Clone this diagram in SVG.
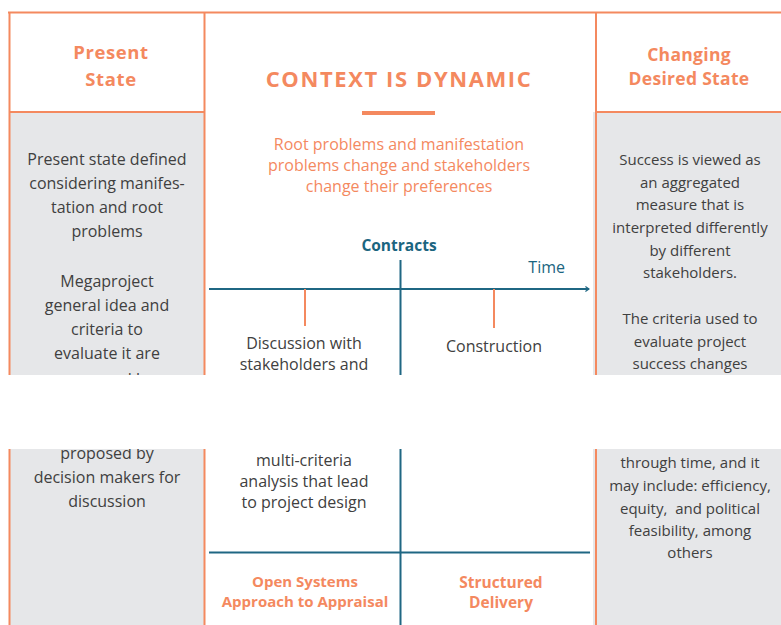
<svg xmlns="http://www.w3.org/2000/svg" width="781" height="625" viewBox="0 0 781 625">
  <style>
    .frame { stroke: #F4895F; stroke-width: 2; fill: none; }
    .panel { fill: #E6E7E9; }
    .head { font-family: "Open Sans", "Liberation Sans", sans-serif; font-weight: 700; fill: #F4895F; text-anchor: middle; }
    .body { font-family: "Open Sans", "Liberation Sans", sans-serif; fill: #404040; text-anchor: middle; }
    .sub { font-family: "Open Sans", "Liberation Sans", sans-serif; fill: #F4895F; text-anchor: middle; font-size: 16px; }
    .axis { stroke: #1F6783; stroke-width: 2; fill: none; }
    .tick { stroke: #F4895F; stroke-width: 2; }
    .teal { font-family: "Open Sans", "Liberation Sans", sans-serif; fill: #1B6580; }
  </style>
  <defs>
    <marker id="arrow" viewBox="0 0 10 10" refX="8" refY="5" markerWidth="6" markerHeight="6" markerUnits="userSpaceOnUse" orient="auto">
      <path d="M2,1 L8,5 L2,9" fill="none" stroke="#1F6783" stroke-width="2"/>
    </marker>
  </defs>

  <rect width="781" height="625" fill="#FFFFFF"/>

  <!-- left column: present state -->
  <g id="present-state">
    <rect class="panel" x="9" y="112" width="196" height="513"/>
    <line class="frame" x1="8" y1="12.5" x2="781" y2="12.5"/>
    <line class="frame" x1="9.5" y1="12" x2="9.5" y2="625"/>
    <line class="frame" x1="204.5" y1="12" x2="204.5" y2="625"/>
    <line class="frame" x1="9" y1="112" x2="205" y2="112"/>
    <text class="head" font-size="18.5" letter-spacing="0.6" x="111" y="59">Present</text>
    <text class="head" font-size="18.5" letter-spacing="0.6" x="111" y="86">State</text>
    <g class="body" font-size="16">
      <text x="107" y="165">Present state defined</text>
      <text x="107" y="189">considering manifes-</text>
      <text x="107" y="213">tation and root</text>
      <text x="107" y="237">problems</text>
      <text x="107" y="287">Megaproject</text>
      <text x="107" y="311">general idea and</text>
      <text x="107" y="335">criteria to</text>
      <text x="107" y="359">evaluate it are</text>
      <text x="107" y="385">proposed by</text>
      <text x="107" y="459">proposed by</text>
      <text x="107" y="483">decision makers for</text>
      <text x="107" y="507">discussion</text>
    </g>
  </g>

  <!-- right column: changing desired state -->
  <g id="desired-state">
    <rect class="panel" x="593" y="112" width="188" height="513"/>
    <line class="frame" x1="596" y1="12" x2="596" y2="625"/>
    <line class="frame" x1="596" y1="112" x2="781" y2="112"/>
    <text class="head" font-size="17.5" letter-spacing="0.3" x="689" y="61">Changing</text>
    <text class="head" font-size="17.5" letter-spacing="0.3" x="689" y="85">Desired State</text>
    <g class="body" font-size="15">
      <text x="690" y="165">Success is viewed as</text>
      <text x="690" y="188">an aggregated</text>
      <text x="690" y="210">measure that is</text>
      <text x="690" y="233">interpreted differently</text>
      <text x="690" y="256">by different</text>
      <text x="690" y="278">stakeholders.</text>
      <text x="690" y="324">The criteria used to</text>
      <text x="690" y="347">evaluate project</text>
      <text x="690" y="369">success changes</text>
      <text x="690" y="468">through time, and it</text>
      <text x="690" y="491">may include: efficiency,</text>
      <text x="690" y="514" xml:space="preserve">equity,  and political</text>
      <text x="690" y="536">feasibility, among</text>
      <text x="690" y="558">others</text>
    </g>
  </g>

  <!-- centre column: title and subtitle -->
  <g id="title">
    <text class="head" font-size="22" letter-spacing="1.6" x="399" y="87">CONTEXT IS DYNAMIC</text>
    <rect x="362" y="111" width="73" height="4" fill="#F4895F"/>
    <text class="sub" x="399" y="150">Root problems and manifestation</text>
    <text class="sub" x="399" y="171">problems change and stakeholders</text>
    <text class="sub" x="399" y="192">change their preferences</text>
  </g>

  <!-- timeline axes and ticks -->
  <g id="connectors">
    <line class="axis" x1="209" y1="289" x2="589" y2="289" marker-end="url(#arrow)"/>
    <line class="axis" x1="400.5" y1="260" x2="400.5" y2="625"/>
    <line class="axis" x1="209" y1="552.5" x2="590" y2="552.5"/>
    <line class="tick" x1="305" y1="289" x2="305" y2="326"/>
    <line class="tick" x1="494" y1="289" x2="494" y2="328"/>
  </g>

  <g id="contracts">
    <text class="teal" font-weight="700" font-size="15.5" text-anchor="middle" x="399" y="251">Contracts</text>
  </g>
  <g id="time">
    <text class="teal" font-size="16" text-anchor="end" x="565" y="273">Time</text>
  </g>

  <g id="appraisal-phase">
    <g class="body" font-size="16">
      <text x="304" y="349">Discussion with</text>
      <text x="304" y="370">stakeholders and</text>
      <text x="304" y="466">multi-criteria</text>
      <text x="304" y="487">analysis that lead</text>
      <text x="304" y="508">to project design</text>
    </g>
    <text class="head" font-size="15" x="305" y="587">Open Systems</text>
    <text class="head" font-size="15" x="305" y="607">Approach to Appraisal</text>
  </g>

  <g id="delivery-phase">
    <text class="body" font-size="16" x="494" y="352">Construction</text>
    <text class="head" font-size="15.5" x="501" y="588">Structured</text>
    <text class="head" font-size="15.5" x="501" y="608">Delivery</text>
  </g>

  <!-- blank band across the page -->
  <rect x="0" y="375" width="781" height="74" fill="#FFFFFF"/>
</svg>
